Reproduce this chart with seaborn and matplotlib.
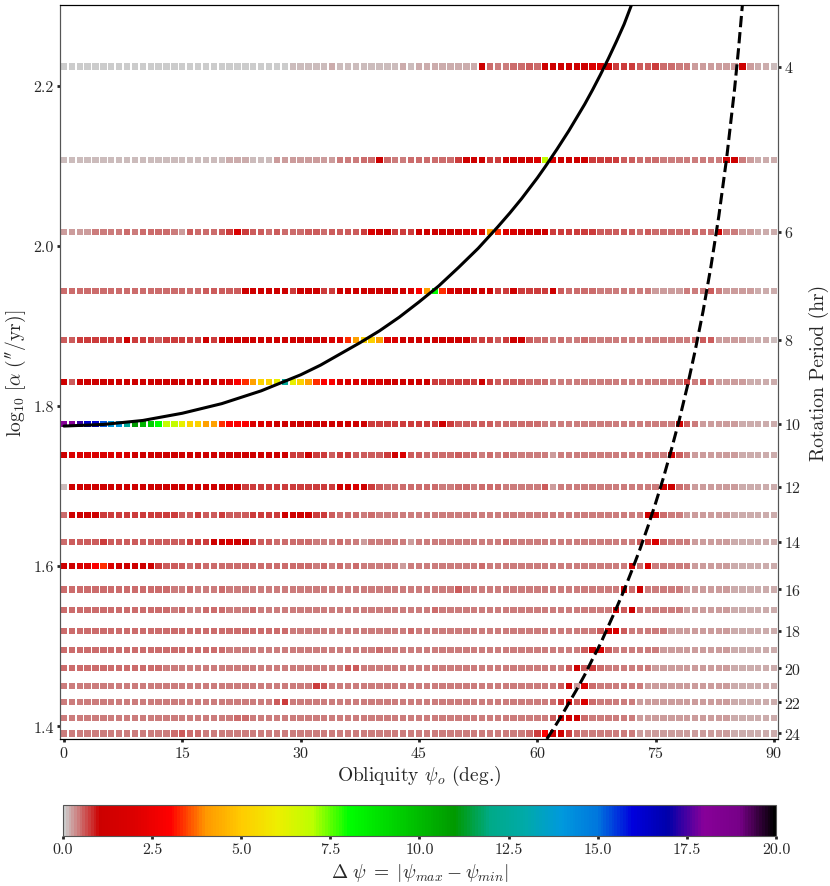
import numpy as np
import pandas as pd
import matplotlib
matplotlib.use('Agg')
import matplotlib.pyplot as plt
import matplotlib.colors as mcolors
import matplotlib.cm as cm
from matplotlib.ticker import FormatStrFormatter
import seaborn as sns

sns.set_style('ticks')
plt.rcParams['font.family'] = ['cmr10', 'DejaVu Serif']
plt.rcParams['mathtext.fontset'] = 'cm'
plt.rcParams['axes.formatter.use_mathtext'] = True

# rows of the grid: rotation period (hr) and the matching log10 alpha
periods = [4, 5, 6, 7, 8, 9, 10, 11, 12, 13, 14, 15, 16, 17, 18, 19, 20, 21, 22, 23, 24]
log_alpha = [2.224, 2.1075, 2.0175, 1.944, 1.8825, 1.830, 1.7775, 1.739, 1.699, 1.664,
             1.630, 1.600, 1.571, 1.545, 1.519, 1.495, 1.4725, 1.450, 1.430, 1.410, 1.391]
obliquity = list(range(0, 91))

# delta psi, one run-length coded row per period
# (symbol -> value below, "cxN" = symbol repeated N times)
code_value = {'0': 0.07, '1': 0.15, '2': 0.2, '3': 0.3, '4': 0.4, '5': 0.5,
              '6': 0.62, '7': 0.78, '8': 1.1, '9': 1.8, 'a': 2.9, 'b': 3.3,
              'c': 4.2, 'd': 5.2, 'e': 6.1, 'f': 6.8, 'g': 8.0, 'G': 9.4,
              'H': 10.2, 'h': 11.0, 'i': 12.5, 'j': 14.0, 'K': 15.3, 'k': 16.3,
              'l': 17.4, 'm': 18.0}
dpsi_rows = [
    "0x29 1x5 2 1x8 2 1 2x8 8 5 4x2 5x2 6 5 8x6 9x2 8 7x3 6x2 7 5x2 4x2 3x6 8 3 2x2 1",
    "1x21 2x3 1x3 3x8 4x3 5x2 8 5 4x2 5x6 7 8x3 7x2 8x4 9 f 9 8x4 7x4 6x2 5x3 4x8 8x2 4 3 2x3",
    "3x4 4x4 5 4 5x4 4 3 6 5x3 6 7 9 7 6x2 5 6 5x3 6x2 5 6x4 7 9 8x2 7x3 8x6 9x3 c b 9x2 8x4 7x6 6x5 5 6 5x8 8 4x2 3x2 2x3",
    "5x18 6x5 8x6 7 8x3 7x2 8x9 9 a c g b 9 8x5 7x2 8 7x4 8 6 5x4 4x7 3x4 4x3 6 4 3x4 2x3",
    "6x2 7x6 8 7x3 6 7x5 8 7 8x14 9x2 b c dx2 c 9x2 8x9 7x3 6 7 8x2 6 5x2 4 5 4x2 5 4x13 5 6x2 3x4 2x3 1",
    "8 6 8x18 9x2 a b c dx2 e i e d c b ax2 9x6 8x6 7x6 8 7 6x4 5x3 4x17 7 4 6 4 3x4 2x4",
    "mx2 l kx2 K jx2 i h H G g fx2 e dx2 cx2 b ax3 9x3 8x12 7x9 8 7 6x5 5x6 4x17 8 6 4 3x5 2x5",
    "8 9x8 8x20 7x2 8 7x2 6 7x2 6x4 7 8 9 6x2 5x4 6 5x2 4 5 4 5 4x5 3 4x14 8 6 4 3x6 2x5",
    "1 8x22 7x12 8x2 9 8 7 6 5x7 4x2 5x2 4 5x3 4x5 6 3 4x13 8x2 5 4 3x6 2x5",
    "5 8x4 7x10 6x2 7 6x2 7 6x3 7x4 8x4 7x2 6 5x3 4 5 4x34 8x2 5 4x2 3x6 2x6",
    "5 6x4 7 6x10 7x3 8x2 9 8x2 7 6x2 5x5 4x3 5 4x2 3 4x5 3 4x11 5 4x16 6 7 9 5 4x3 3x5 2x6",
    "8x2 9x2 a b 9 8x5 7 6x3 5 6 5x14 4 5 4 5 4 5 4x5 3 4x9 5 4x18 8 5 9 4x5 3x5 2x6",
    "5x14 4x2 5 4x3 5 4x29 6 4x20 8 5 8 4x5 3x6 2x6",
    "5x14 4 5 4x2 5x3 4x3 5 4x22 5 4x22 8 6 8 5 4x5 3x6 2x6",
    "5x29 4x15 5 4x23 6 8 9 6 4x5 3x8 2x6",
    "5x21 4x19 5 4x25 6 8 9 6 4x6 3x9 2x6",
    "5x13 4x23 6x2 4x26 6 8 6 7 5 4x6 3x10 2x6",
    "4x32 7 6 4x29 6 8 3 9 5 4x6 3x11 2x6",
    "4x27 6 7 4x33 5 7 8 6 9 5 4x5 3x12 2x6",
    "4x22 5x2 4x38 6 8x3 5 4x6 3x12 2x6",
    "4x14 5 6 5x2 4x41 5 7 a 8x2 7 5 4x7 3x12 2x6",
]

# resonance curves (obliquity deg, log10 alpha)
solid_psi = [0, 5, 10, 15, 20, 25, 30, 32.5, 35, 37.5, 40, 42.5, 45, 47.5, 50, 52.5,
             55, 56.5, 58, 60, 61, 62.5, 64, 66, 67, 68, 69, 70, 71, 72.2]
solid_loga = [1.775, 1.777, 1.782, 1.791, 1.803, 1.819, 1.839, 1.851, 1.865, 1.879,
              1.894, 1.911, 1.930, 1.950, 1.973, 1.997, 2.024, 2.041, 2.059, 2.085,
              2.099, 2.121, 2.144, 2.177, 2.195, 2.214, 2.234, 2.255, 2.277, 2.308]
dashed_psi = [61.2, 62, 63, 64, 65, 66, 67, 68, 69, 70, 71, 72, 73, 74, 75, 76, 77,
              78, 79, 80, 81, 82, 83, 84, 85, 85.5, 86]
dashed_loga = [1.384, 1.396, 1.412, 1.429, 1.446, 1.464, 1.484, 1.503, 1.525, 1.547,
               1.570, 1.595, 1.621, 1.649, 1.679, 1.711, 1.746, 1.783, 1.824, 1.869,
               1.918, 1.974, 2.037, 2.110, 2.196, 2.246, 2.302]

period_ticks = [4, 6, 8, 10, 12, 14, 16, 18, 20, 22, 24]


def decode(row):
    vals = []
    for tok in row.split():
        if 'x' in tok:
            c, n = tok.split('x')
            vals += [code_value[c]] * int(n)
        else:
            vals.append(code_value[tok])
    return vals


recs = []
for p, la, row in zip(periods, log_alpha, dpsi_rows):
    vals = decode(row)
    if len(vals) != len(obliquity):
        print('row', p, 'has', len(vals))
    vals = (vals + [vals[-1]] * 91)[:91]
    for psi, v in zip(obliquity, vals):
        recs.append((psi, la, v))
df = pd.DataFrame(recs, columns=['psi', 'loga', 'dpsi'])

fig = plt.figure(figsize=(8.3, 8.87), dpi=100)
ax = fig.add_axes([0.0723, 0.1657, 0.8650, 0.8275])
cax = fig.add_axes([0.0759, 0.0564, 0.8590, 0.0350])

sns.scatterplot(data=df, x='psi', y='loga', hue='dpsi', palette='nipy_spectral_r',
                hue_norm=(0, 20), marker='s', s=21, linewidth=0, legend=False,
                ax=ax, zorder=2)
sns.lineplot(x=solid_psi, y=solid_loga, sort=False, estimator=None, color='k',
             lw=2.2, ax=ax, zorder=3)
sns.lineplot(x=dashed_psi, y=dashed_loga, sort=False, estimator=None, color='k',
             lw=2.2, linestyle='--', ax=ax, zorder=3)

ax.set_xlim(-0.5, 90.5)
ax.set_ylim(1.384, 2.301)
ax.set_xticks([0, 15, 30, 45, 60, 75, 90])
ax.set_yticks([1.4, 1.6, 1.8, 2.0, 2.2])
ax.yaxis.set_major_formatter(FormatStrFormatter('%.1f'))
ax.tick_params(direction='out', length=2.5, width=2, labelsize=11.5, pad=2)
ax.set_xlabel(r'Obliquity $\psi_o$ (deg.)', fontsize=14, labelpad=2)
ax.set_ylabel(r'$\log_{10}\,[\alpha\ (^{\prime\prime}/{\rm yr})]$', fontsize=14, labelpad=4)

ax2 = ax.twinx()
ax2.set_ylim(ax.get_ylim())
tick_pos = [log_alpha[periods.index(p)] for p in period_ticks]
ax2.set_yticks(tick_pos)
ax2.set_yticklabels([str(p) for p in period_ticks])
ax2.tick_params(direction='out', length=2.5, width=2, labelsize=11.5, pad=2)
ax2.set_ylabel('Rotation Period (hr)', fontsize=14, labelpad=6)

for a in (ax, ax2):
    for side in ('left', 'right'):
        a.spines[side].set_color('#555555')
    a.spines['top'].set_color('k')
    a.spines['bottom'].set_color('k')

sm = cm.ScalarMappable(norm=mcolors.Normalize(0, 20), cmap='nipy_spectral_r')
cb = fig.colorbar(sm, cax=cax, orientation='horizontal')
cb.set_ticks([0, 2.5, 5, 7.5, 10, 12.5, 15, 17.5, 20])
cb.ax.xaxis.set_major_formatter(FormatStrFormatter('%.1f'))
cb.ax.tick_params(direction='out', length=2.5, width=2, labelsize=11.5, pad=2)
cb.outline.set_edgecolor('#555555')
cb.set_label(r'$\Delta\ \psi\; =\; |\psi_{max} - \psi_{min}|$', fontsize=14, labelpad=4)

fig.savefig('out.png', dpi=100)
